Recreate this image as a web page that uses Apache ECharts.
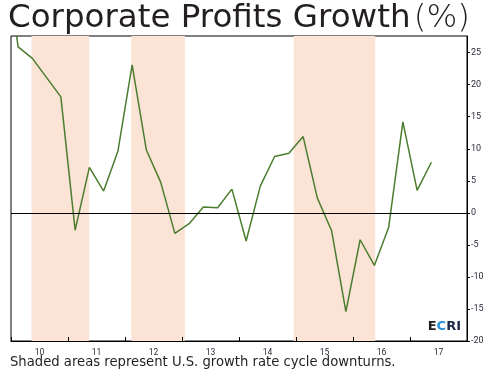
<!DOCTYPE html>
<html>
<head>
<meta charset="utf-8">
<script src="https://cdn.jsdelivr.net/npm/echarts@6/dist/echarts.min.js"></script>
<style>
  html, body { margin: 0; padding: 0; background: #fff; }
  #main { width: 495px; height: 375px; }
</style>
</head>
<body>
<div id="main"></div>
<script>
// quarterly points, placed at the middle of each quarter
var quarters = [2009.875,
  2010.125, 2010.375, 2010.625, 2010.875,
  2011.125, 2011.375, 2011.625, 2011.875,
  2012.125, 2012.375, 2012.625, 2012.875,
  2013.125, 2013.375, 2013.625, 2013.875,
  2014.125, 2014.375, 2014.625, 2014.875,
  2015.125, 2015.375, 2015.625, 2015.875,
  2016.125, 2016.375, 2016.625, 2016.875,
  2017.125, 2017.375];
var growth = [42,
  25.9, 24.1, 21.1, 18.1,
  -2.7, 7.1, 3.4, 9.6,
  23.1, 9.8, 4.8, -3.2,
  -1.7, 0.9, 0.8, 3.7,
  -4.4, 4.2, 8.8, 9.3,
  11.9, 2.3, -2.8, -15.4,
  -4.2, -8.2, -2.3, 14.2,
  3.5, 7.9];
// growth rate cycle downturns (shaded)
var downturns = [[2010.36, 2011.37], [2012.11, 2013.05], [2014.96, 2016.39]];
var yearLabels = [2010.5, 2011.5, 2012.5, 2013.5, 2014.5, 2015.5, 2016.5, 2017.5];
var yTicks = [-20, -15, -10, -5, 0, 5, 10, 15, 20, 25];

var chart = echarts.init(document.getElementById('main'));

chart.setOption({
  animation: false,
  grid: {
    left: 11, right: 28, top: 36, bottom: 34,
    show: true, borderColor: '#000', borderWidth: 1
  },
  xAxis: [{
    // year boundaries: ticks only
    type: 'value',
    position: 'bottom',
    min: 2010,
    max: 2018,
    interval: 1,
    z: 10,
    axisLine: { show: true, onZero: false, lineStyle: { color: '#000', width: 1 } },
    axisTick: { show: true, inside: true, length: 4, lineStyle: { color: '#000', width: 1 } },
    axisLabel: { show: false },
    splitLine: { show: false }
  }, {
    // year labels at mid-year
    type: 'value',
    position: 'bottom',
    offset: 0,
    min: 2010,
    max: 2018,
    axisLine: { show: false, onZero: false },
    axisTick: { show: false },
    axisLabel: {
      customValues: yearLabels,
      formatter: function (v) { return String(Math.floor(v) - 2000); },
      color: '#2b2b3a', fontSize: 8.5, fontFamily: 'Roboto', margin: 7
    },
    splitLine: { show: false }
  }],
  yAxis: {
    type: 'value',
    position: 'right',
    min: -20,
    max: 27.6,
    z: 10,
    axisLine: { show: true, onZero: false, lineStyle: { color: '#000', width: 1 } },
    axisTick: { show: true, length: 3, customValues: yTicks, lineStyle: { color: '#000' } },
    axisLabel: {
      customValues: yTicks,
      color: '#2b2b3a', fontSize: 9, fontFamily: 'Roboto', margin: 4
    },
    splitLine: { show: false }
  },
  series: [{
    type: 'line',
    xAxisIndex: 0,
    data: quarters.map(function (q, i) { return [q, growth[i]]; }),
    symbol: 'none',
    clip: true,
    lineStyle: { color: '#4b7d2f', width: 1.5 },
    markArea: {
      silent: true,
      itemStyle: { color: '#fbe3d5' },
      data: downturns.map(function (d) { return [{ xAxis: d[0] }, { xAxis: d[1] }]; })
    },
    markLine: {
      silent: true,
      symbol: 'none',
      label: { show: false },
      lineStyle: { color: '#000', type: 'solid', width: 1 },
      data: [{ yAxis: 0 }]
    },
    z: 3
  }],
  graphic: [
    {
      type: 'text', left: 8, top: 2,
      style: {
        text: '{a|Corporate Profits Growth} {b|(%)}',
        rich: {
          a: { fontFamily: 'DejaVu Sans', fontSize: 32.5, fontWeight: 'normal', fill: '#231f20' },
          b: { fontFamily: 'DejaVu Sans', fontSize: 32.5, fontWeight: 200, fill: '#231f20' }
        }
      }
    },
    {
      type: 'text', left: 10, top: 356,
      style: {
        text: 'Shaded areas represent U.S. growth rate cycle downturns.',
        fontFamily: 'DejaVu Sans', fontSize: 13.2, fill: '#231f20'
      }
    },
    {
      type: 'text', right: 34, top: 320, z: 10,
      style: {
        text: '{e|E}{c|C}{r|RI}',
        rich: {
          e: { fontFamily: 'DejaVu Sans', fontSize: 13, fontWeight: 'bold', fill: '#231f20' },
          c: { fontFamily: 'DejaVu Sans', fontSize: 13, fontWeight: 'bold', fill: '#1e8fd5' },
          r: { fontFamily: 'DejaVu Sans', fontSize: 13, fontWeight: 'bold', fill: '#1c2a48' }
        }
      }
    }
  ]
});
</script>
</body>
</html>
